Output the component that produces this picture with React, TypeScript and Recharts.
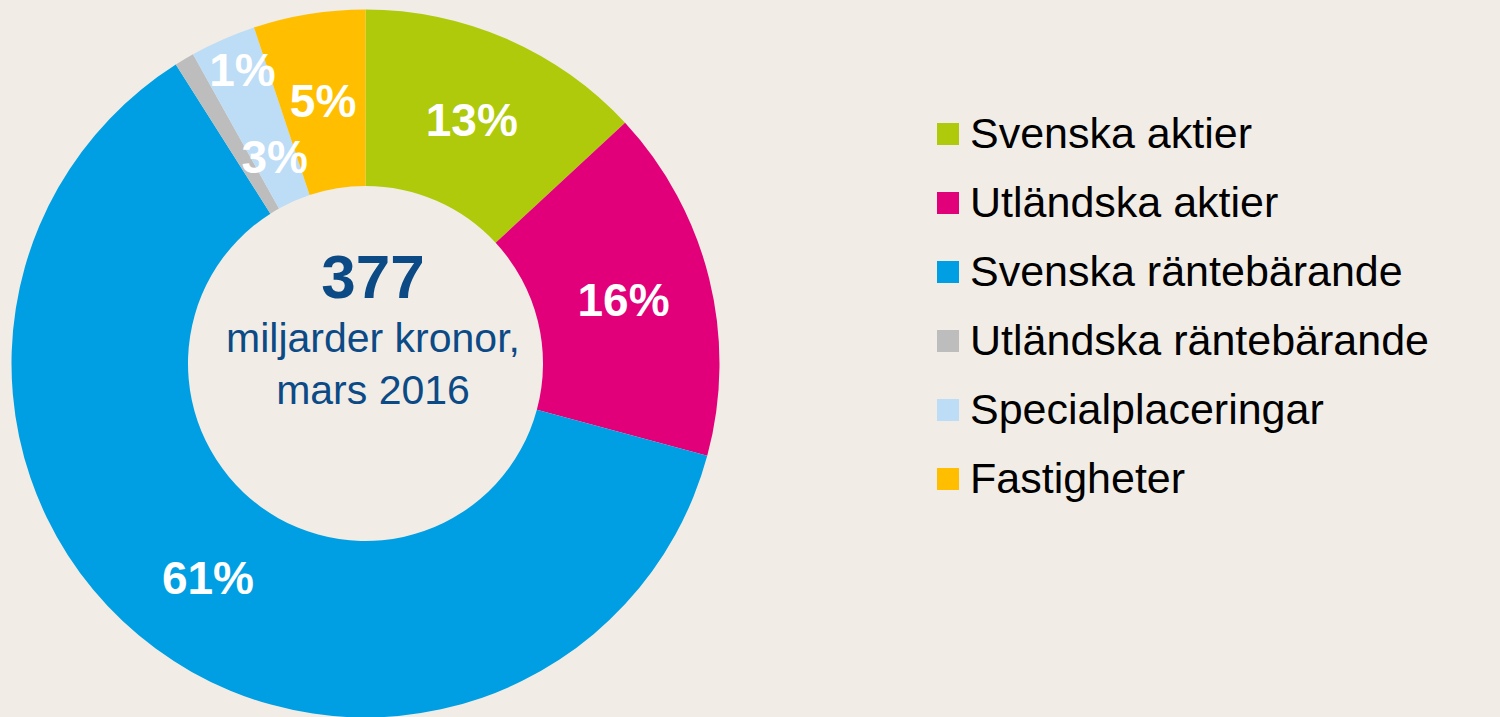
import { PieChart, Pie, Cell, Legend } from 'recharts';

// fördelning av fondkapitalet, mars 2016
const categories = [
  'Svenska aktier',
  'Utländska aktier',
  'Svenska räntebärande',
  'Utländska räntebärande',
  'Specialplaceringar',
  'Fastigheter',
];
const shares = [13.1, 16.1, 61.8, 0.9, 3.0, 5.1];
const shareLabels = ['13%', '16%', '61%', '1%', '3%', '5%'];
const COLORS = ['#afca0b', '#e2007a', '#009fe3', '#bdbdbd', '#bddcf6', '#ffbf00'];

const totalValue = '377';
const totalText = ['miljarder kronor,', 'mars 2016'];

const BG = '#f1ede6';
const NAVY = '#0c4a86';
const FONT = '"Liberation Sans", Arial, sans-serif';
const RAD = Math.PI / 180;

const data = categories.map((name, i) => ({ name, value: shares[i] }));

function renderLabel(props: any) {
  const { cx, cy, midAngle, innerRadius, outerRadius, percent, index } = props;
  let r = (innerRadius + outerRadius) / 2;
  let angle = midAngle;
  // de små bitarna får sina etiketter förskjutna så de inte krockar
  if (percent < 0.02) {
    r = outerRadius - 36;
    angle = midAngle - 8;
  } else if (percent < 0.04) {
    r = innerRadius + 48;
  }
  const x = cx + r * Math.cos(-angle * RAD);
  const y = cy + r * Math.sin(-angle * RAD);
  return (
    <text
      x={x}
      y={y}
      fill="#ffffff"
      textAnchor="middle"
      dominantBaseline="central"
      fontFamily={FONT}
      fontWeight="bold"
      fontSize={46}
    >
      {shareLabels[index]}
    </text>
  );
}

function LegendList() {
  return (
    <div style={{ fontFamily: FONT }}>
      {categories.map((name, i) => (
        <div
          key={name}
          style={{ display: 'flex', alignItems: 'center', height: 69 }}
        >
          <span
            style={{
              width: 22,
              height: 22,
              background: COLORS[i],
              marginRight: 11,
              flexShrink: 0,
            }}
          />
          <span style={{ fontSize: 43, color: '#000', whiteSpace: 'nowrap' }}>
            {name}
          </span>
        </div>
      ))}
    </div>
  );
}

export default function App() {
  const cx = 365.5;
  const cy = 363.5;
  return (
    <div
      style={{
        position: 'fixed',
        left: 0,
        top: 0,
        width: 1500,
        height: 717,
        background: BG,
        overflow: 'hidden',
      }}
    >
      <PieChart
        width={1500}
        height={717}
        margin={{ top: 0, right: 0, bottom: 0, left: 0 }}
      >
        <Pie
          data={data}
          dataKey="value"
          nameKey="name"
          cx={cx}
          cy={cy}
          innerRadius={177.5}
          outerRadius={354}
          startAngle={90}
          endAngle={-270}
          stroke="none"
          label={renderLabel}
          labelLine={false}
          isAnimationActive={false}
        >
          {data.map((_, i) => (
            <Cell key={i} fill={COLORS[i]} />
          ))}
        </Pie>
        <text
          x={373}
          y={298}
          textAnchor="middle"
          fill={NAVY}
          fontFamily={FONT}
          fontWeight="bold"
          fontSize={62}
        >
          {totalValue}
        </text>
        {totalText.map((t, i) => (
          <text
            key={t}
            x={373}
            y={352 + i * 52}
            textAnchor="middle"
            fill={NAVY}
            fontFamily={FONT}
            fontSize={41}
          >
            {t}
          </text>
        ))}
        <Legend
          content={() => <LegendList />}
          wrapperStyle={{ left: 937, top: 99, width: 560, bottom: 'auto' }}
        />
      </PieChart>
    </div>
  );
}
